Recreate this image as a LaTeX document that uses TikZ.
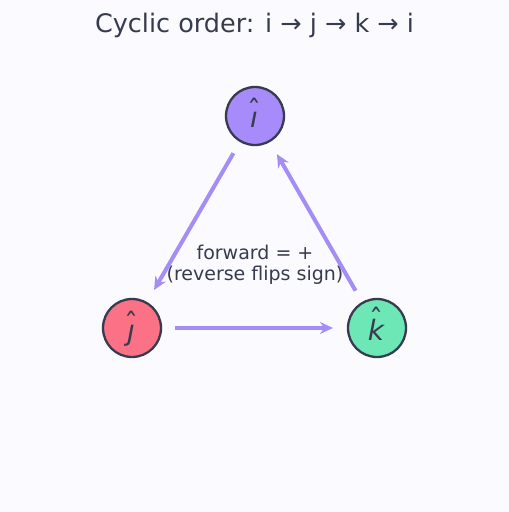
\documentclass[tikz,border=0pt]{standalone}
\usepackage{fontspec}
\setmainfont{DejaVu Sans}
\newfontfamily\letterfont{DejaVu Sans Oblique}
\usetikzlibrary{arrows.meta}
\definecolor{bgcol}{HTML}{FBFAFE}
\definecolor{inkcol}{HTML}{373B4F}
\definecolor{icol}{HTML}{A78BFA}
\definecolor{jcol}{HTML}{FB7185}
\definecolor{kcol}{HTML}{6EE7B7}
\definecolor{arrowcol}{HTML}{A48EF5}
% letter with a circumflex set well above it
\newcommand{\hatted}[2]{\ooalign{#1\cr\hidewidth\raisebox{#2}{\normalfont ˆ}\hidewidth\cr}}
\tikzset{
  unitvec/.style={circle, draw=inkcol, line width=2.3pt, minimum size=58pt, inner sep=0pt, outer sep=0pt},
  letter/.style={text=inkcol, font=\letterfont\fontsize{28}{28}\selectfont, inner sep=0pt},
  cyclearrow/.style={draw=arrowcol, line width=4pt, -{Stealth[length=13pt,width=12pt]}, shorten <=14pt, shorten >=15pt},
  caption/.style={text=inkcol, font=\fontsize{19}{21}\selectfont, align=center},
}
\begin{document}
\begin{tikzpicture}[x=1pt,y=-1pt]
  \fill[bgcol] (0,0) rectangle (509,512);
  \useasboundingbox (0,0) rectangle (509,512);

  \node[text=inkcol, font=\fontsize{25.5}{28}\selectfont] (title) at (254.5,25) {Cyclic order: i → j → k → i};

  % unit vectors on the corners of the triangle
  \node[unitvec, fill=icol] (i) at (255,116) {};
  \node[unitvec, fill=jcol] (j) at (132,328) {};
  \node[unitvec, fill=kcol] (k) at (377,328) {};

  \node[letter, anchor=base] (il) at (254,127) {\hatted{ı}{7pt}};
  \node[letter, anchor=base] (jl) at (131,340) {\hatted{ȷ}{7pt}};
  \node[letter, anchor=base] (kl) at (376,340) {\hatted{k}{11pt}};

  % forward cycle
  \draw[cyclearrow] (i) -- (j);
  \draw[cyclearrow] (j) -- (k);
  \draw[cyclearrow] (k) -- (i);

  \node[caption] (note) at (255,265) {forward = +\\(reverse flips sign)};
\end{tikzpicture}
\end{document}
